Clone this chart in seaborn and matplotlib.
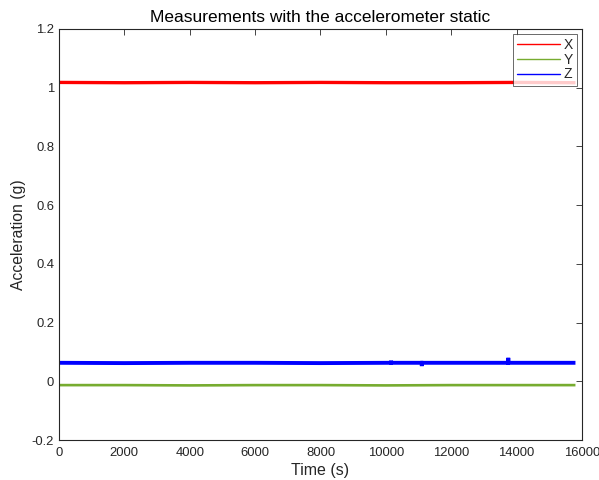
import numpy as np
import pandas as pd
import matplotlib
matplotlib.use("Agg")
import matplotlib.pyplot as plt
import seaborn as sns
from matplotlib.lines import Line2D

# Time knots (s) and sensor values
time_x = [0, 2000, 4000, 6000, 8000, 10000, 12000, 14000, 15800]
acc_x = [1.018, 1.017, 1.018, 1.017, 1.018, 1.017, 1.017, 1.018, 1.017]

time_y = [0, 2000, 4000, 6000, 8000, 10000, 12000, 14000, 15800]
acc_y = [-0.013, -0.013, -0.014, -0.013, -0.013, -0.014, -0.013, -0.013, -0.013]

time_z = [0, 2000, 4000, 6000, 8000, 10150, 10160, 10170,
          11090, 11100, 11110, 12000, 13740, 13745, 13750, 15800]
acc_z = [0.063, 0.062, 0.063, 0.063, 0.062, 0.063, 0.070, 0.063,
         0.063, 0.052, 0.063, 0.063, 0.063, 0.080, 0.063, 0.063]

series_names = ["X", "Y", "Z"]
colors = {"X": "#FF0000", "Y": "#77AC30", "Z": "#0000FF"}
widths = {"X": 2.4, "Y": 1.9, "Z": 2.8}

df = pd.concat([
    pd.DataFrame({"Time": time_x, "Acc": acc_x, "Axis": "X"}),
    pd.DataFrame({"Time": time_y, "Acc": acc_y, "Axis": "Y"}),
    pd.DataFrame({"Time": time_z, "Acc": acc_z, "Axis": "Z"}),
], ignore_index=True)

sns.set_style("white")
plt.rcParams["font.family"] = ["Liberation Sans", "DejaVu Sans"]
tc = "#262626"

fig = plt.figure(figsize=(5.99, 4.8), dpi=100)
ax = fig.add_axes([0.0985, 0.0833, 0.8731, 0.8563])

for name in series_names:
    sns.lineplot(data=df[df["Axis"] == name], x="Time", y="Acc", ax=ax,
                 color=colors[name], linewidth=widths[name], label=None,
                 estimator=None, sort=False, solid_capstyle="butt",
                 solid_joinstyle="miter")

ax.set_xlim(0, 16000)
ax.set_ylim(-0.2, 1.2)
ax.set_xticks(np.arange(0, 16001, 2000))
ax.set_yticks(np.arange(-0.2, 1.21, 0.2))
ax.set_yticklabels(["-0.2", "0", "0.2", "0.4", "0.6", "0.8", "1", "1.2"])
ax.tick_params(direction="in", length=4, width=0.6, top=True, right=True,
               labelsize=9.4, colors=tc, labelcolor=tc)
ax.tick_params(axis="x", pad=5)
for s in ax.spines.values():
    s.set_color(tc)
    s.set_linewidth(0.8)

ax.set_xlabel("Time (s)", fontsize=11.5, color=tc, labelpad=3)
ax.set_ylabel("Acceleration (g)", fontsize=11.3, color=tc, labelpad=4)
ax.set_title("Measurements with the accelerometer static", fontsize=12.5,
             color="black", pad=5)

handles = [Line2D([0], [0], color=colors[n], linewidth=1.0) for n in series_names]
leg = ax.legend(handles, series_names, loc="upper right", fontsize=10,
                frameon=True, fancybox=False, edgecolor=tc, handlelength=3.1,
                handletextpad=0.25, borderpad=0.3, labelspacing=0.05,
                borderaxespad=0.35)
leg.get_frame().set_linewidth(0.6)

fig.savefig("out.png", dpi=100)
